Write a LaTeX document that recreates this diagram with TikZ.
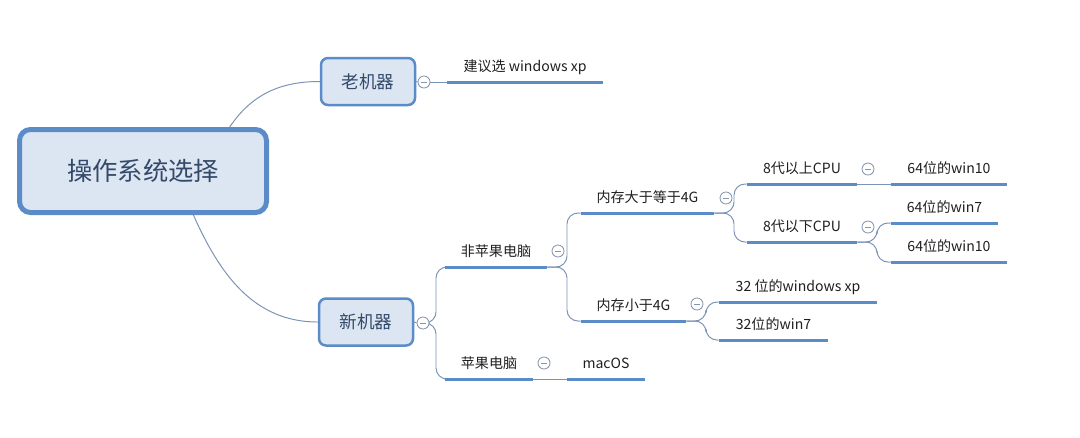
\documentclass[tikz,border=0pt]{standalone}
\usepackage{fontspec}
\setmainfont{Noto Sans CJK SC}
\usetikzlibrary{positioning,calc,backgrounds}
\definecolor{boxfill}{HTML}{DCE6F2}
\definecolor{boxline}{HTML}{5B8CC8}
\definecolor{boxtext}{HTML}{34496A}
\definecolor{linkc}{HTML}{7B93B6}
\definecolor{ulinec}{HTML}{5B8CC8}
\definecolor{foldc}{HTML}{8796AC}
\newdimen\pxu \pxu=0.025cm
\tikzset{
central/.style={draw=boxline,fill=boxfill,line width=5\pxu,rounded corners=11\pxu,minimum width=247\pxu,minimum height=83\pxu,text=boxtext,font=\fontsize{18}{20}\selectfont},
mainbox/.style={draw=boxline,fill=boxfill,line width=2.5\pxu,rounded corners=7\pxu,minimum width=94\pxu,minimum height=47\pxu,text=boxtext,font=\fontsize{12.5}{15}\selectfont},
topic/.style={anchor=south,inner xsep=0pt,inner ysep=5pt,text height=8pt,text depth=2pt,font=\fontsize{10}{12}\selectfont,text=black!88},
fold/.style={circle,draw=foldc,fill=white,line width=0.6pt,minimum size=12\pxu,inner sep=0pt,path picture={\draw[foldc,line width=0.6pt]([xshift=-2pt]path picture bounding box.center)--([xshift=2pt]path picture bounding box.center);}},
link/.style={draw=linkc,line width=0.7pt},
forked/.style={link,rounded corners=11\pxu},
uline/.style={draw=ulinec,line width=3\pxu}
}
\begin{document}
\begin{tikzpicture}[x=0.025cm,y=-0.025cm]
\useasboundingbox (0,0) rectangle (1080,437);
% main topics
\node[central](root) at (143,171){操作系统选择};
\node[mainbox](old) at (368,81.5){老机器};
\node[mainbox](new) at (366,322){新机器};
\node[fold](oldc) at (424,82){};
\node[fold](newc) at (423,323){};
% 老机器
\node[topic,minimum width=156\pxu](advice) at (525,82){建议选 windows xp};
% 新机器
\node[topic,minimum width=102\pxu](nonapple) at (496,267){非苹果电脑};
\node[topic,minimum width=88\pxu](apple) at (489,379){苹果电脑};
\node[fold](nonapplec) at (558,251){};
\node[fold](applec) at (544,363){};
\node[topic,minimum width=78\pxu](macos) at (606,379){macOS};
\node[topic,minimum width=133\pxu](ram4up) at (647.5,213){内存大于等于4G};
\node[topic,minimum width=105\pxu](ramlt4) at (633.5,321){内存小于4G};
\node[fold](ram4upc) at (726,198){};
\node[fold](ramlt4c) at (697,304){};
\node[topic,minimum width=110\pxu](cpuhi) at (802,184){8代以上CPU};
\node[topic,minimum width=110\pxu](cpulo) at (802,242){8代以下CPU};
\node[fold](cpuhic) at (868,169){};
\node[fold](cpuloc) at (868,227){};
\node[topic,minimum width=116\pxu](w10a) at (949,184){64位的win10};
\node[topic,minimum width=107\pxu](w7a) at (944.5,223){64位的win7};
\node[topic,minimum width=116\pxu](w10b) at (949,262){64位的win10};
\node[topic,minimum width=158\pxu](xp32) at (798,302){32 位的windows xp};
\node[topic,minimum width=109\pxu](w7b) at (773.5,340){32位的win7};
\foreach \t in {advice,nonapple,apple,macos,ram4up,ramlt4,cpuhi,cpulo,w10a,w7a,w10b,xp32,w7b}
  \draw[uline](\t.south west)--(\t.south east);
% fork points
\coordinate(newf) at (436,323);
\coordinate(naf) at (567,267);
\coordinate(r4f) at (734,213);
\coordinate(rl4f) at (706,321);
\coordinate(clf) at (877,242);
\begin{scope}[on background layer]
\draw[link]($(root.north west)!.844!(root.north east)$) to[out=56,in=180](old.west);
\draw[link]($(root.south west)!.70!(root.south east)$) to[out=-66,in=180](new.west);
\draw[link](old.east)--(oldc.west);
\draw[link](oldc.east)--(advice.south west);
\draw[link](new.east)--(newc.west);
\draw[forked](newc.east)--(newf)|-(nonapple.south west);
\draw[forked](newc.east)--(newf)|-(apple.south west);
\draw[forked](nonapple.south east)--(naf)|-(ram4up.south west);
\draw[forked](nonapple.south east)--(naf)|-(ramlt4.south west);
\draw[link](apple.south east)--(macos.south west);
\draw[forked](ram4up.south east)--(r4f)|-(cpuhi.south west);
\draw[forked](ram4up.south east)--(r4f)|-(cpulo.south west);
\draw[forked](ramlt4.south east)--(rl4f)|-(xp32.south west);
\draw[forked](ramlt4.south east)--(rl4f)|-(w7b.south west);
\draw[link](cpuhi.south east)--(w10a.south west);
\draw[forked](cpulo.south east)--(clf)|-(w7a.south west);
\draw[forked](cpulo.south east)--(clf)|-(w10b.south west);
\end{scope}
\end{tikzpicture}
\end{document}
